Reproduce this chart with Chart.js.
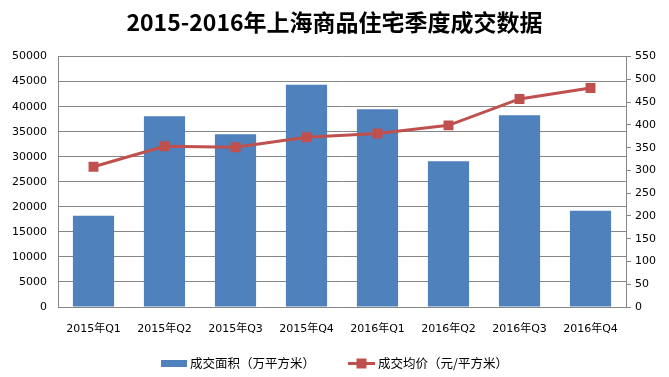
<!DOCTYPE html>
<html>
<head>
<meta charset="utf-8">
<script src="https://cdn.jsdelivr.net/npm/chart.js@4.4.0/dist/chart.umd.min.js"></script>
<style>
html,body{margin:0;padding:0;background:#fff;}
#wrap{width:669px;height:377px;position:relative;}
</style>
</head>
<body>
<div id="wrap"><canvas id="c" width="669" height="377"></canvas></div>
<script>
const titleText = '2015-2016年上海商品住宅季度成交数据';
const categories = ['2015年Q1','2015年Q2','2015年Q3','2015年Q4','2016年Q1','2016年Q2','2016年Q3','2016年Q4'];
const areaName = '成交面积（万平方米）';
const areaValues = [18200, 38100, 34500, 44400, 39500, 29100, 38300, 19200];
const priceName = '成交均价（元/平方米）';
const priceValues = [308, 353, 351, 373, 381, 399, 457, 481];
const leftTicks = [0, 50000, 5000];
const rightTicks = [0, 550, 50];

const BLUE = '#4F81BD';
const RED = '#C0504D';
const GRID = '#868686';

const tickFont = {family: '"DejaVu Sans", "Noto Sans CJK SC", sans-serif', size: 11};
const legendFont = '12.5px "Noto Sans CJK SC", sans-serif';

const legendPlugin = {
  id: 'customLegend',
  afterDraw(chart) {
    const ctx = chart.ctx;
    ctx.save();
    ctx.font = legendFont;
    ctx.textBaseline = 'middle';
    ctx.textAlign = 'left';
    const y = 363.5;
    const t1 = ctx.measureText(areaName).width;
    const t2 = ctx.measureText(priceName).width;
    const total = 26 + 3 + t1 + 33 + 27 + 3 + t2;
    let x = Math.round((chart.width - total) / 2);
    ctx.fillStyle = BLUE;
    ctx.fillRect(x, y - 3.5, 26, 7);
    x += 29;
    ctx.fillStyle = '#000';
    ctx.fillText(areaName, x, y);
    x += t1 + 33;
    ctx.strokeStyle = RED; ctx.lineWidth = 3;
    ctx.beginPath(); ctx.moveTo(x, y); ctx.lineTo(x + 27, y); ctx.stroke();
    ctx.fillStyle = RED; ctx.fillRect(x + 8.5, y - 5, 10, 10);
    x += 30;
    ctx.fillStyle = '#000';
    ctx.fillText(priceName, x, y);
    ctx.restore();
  }
};

new Chart(document.getElementById('c'), {
  data: {
    labels: categories,
    datasets: [
      {
        type: 'bar', label: areaName, data: areaValues, yAxisID: 'y',
        backgroundColor: BLUE, borderWidth: 0, order: 2,
        categoryPercentage: 1.0, barPercentage: 0.58
      },
      {
        type: 'line', label: priceName, data: priceValues, yAxisID: 'y1',
        borderColor: RED, backgroundColor: RED, borderWidth: 3, order: 1,
        pointStyle: 'rect', pointRadius: 7, pointHoverRadius: 7,
        pointBackgroundColor: RED, pointBorderColor: RED, pointBorderWidth: 0,
        tension: 0
      }
    ]
  },
  plugins: [legendPlugin],
  options: {
    responsive: false,
    animation: false,
    layout: {padding: {left: 0, right: 0, top: 0, bottom: 30}},
    plugins: {
      tooltip: {enabled: false},
      legend: {display: false},
      title: {
        display: true, text: titleText, color: '#000',
        font: {family: '"Noto Sans CJK SC", sans-serif', size: 23, weight: 'bold', lineHeight: 1.2},
        padding: {top: 8, bottom: 21}
      }
    },
    scales: {
      x: {
        offset: true,
        grid: {display: false, drawTicks: false},
        border: {display: true, color: GRID, width: 1},
        ticks: {color: '#000', font: tickFont, padding: 16, maxRotation: 0, autoSkip: false},
        afterFit: s => { s.height = 40; }
      },
      y: {
        position: 'left', min: leftTicks[0], max: leftTicks[1],
        ticks: {stepSize: leftTicks[2], color: '#000', font: tickFont, padding: 11, callback: v => String(v)},
        grid: {color: GRID, lineWidth: 1, drawTicks: false},
        border: {display: true, color: GRID, width: 1},
        afterFit: s => { s.width = 58; }
      },
      y1: {
        position: 'right', min: rightTicks[0], max: rightTicks[1],
        ticks: {stepSize: rightTicks[2], color: '#000', font: tickFont, padding: 4, callback: v => String(v)},
        grid: {drawOnChartArea: false, drawTicks: true, tickLength: 5, color: GRID},
        border: {display: true, color: GRID, width: 1},
        afterFit: s => { s.width = 43; }
      }
    }
  }
});
</script>
</body>
</html>
